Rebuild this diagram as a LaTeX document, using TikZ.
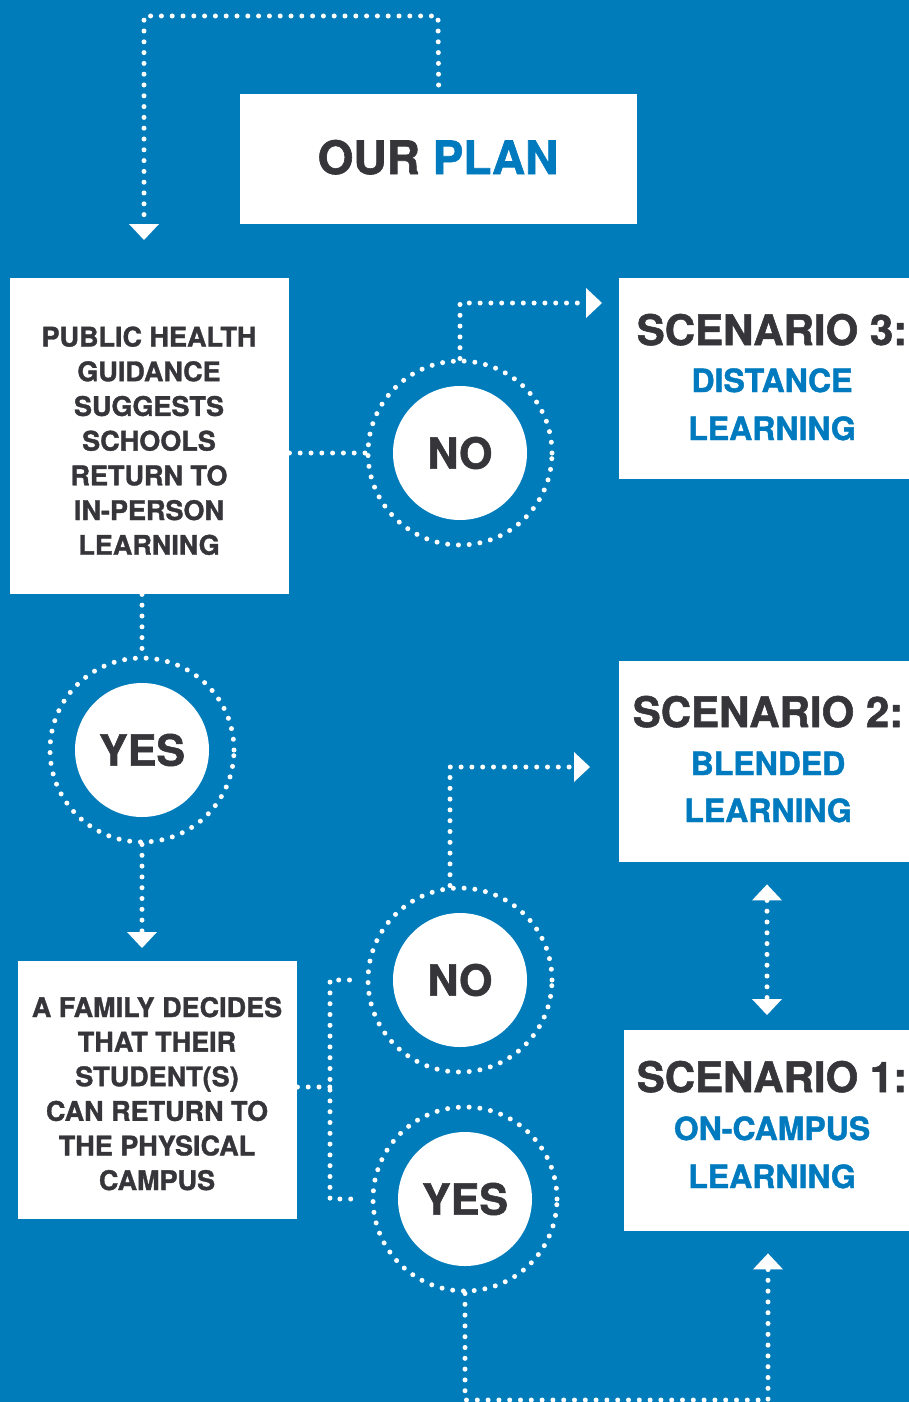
\documentclass[tikz,border=0pt]{standalone}
\usepackage{fontspec}
\setmainfont{TeX Gyre Heros}[BoldFeatures={FakeBold=1.3}]
\usetikzlibrary{arrows.meta}
\definecolor{bg}{RGB}{1,124,187}
\definecolor{dk}{RGB}{54,53,58}
\definecolor{bl}{RGB}{0,122,190}
\begin{document}
\begin{tikzpicture}[x=1pt,y=-1pt,
  dotline/.style={white,line width=5pt,line cap=round,dash pattern=on 0pt off 10.8pt},
  arrowhd/.style={-{Triangle[width=30pt,length=16pt,line width=0pt 0]}},
  darrow/.style={{Triangle[width=30pt,length=16pt,line width=0pt 0]}-{Triangle[width=30pt,length=16pt,line width=0pt 0]}},
  wbox/.style={fill=white,draw=none,inner sep=0pt,anchor=north west},
  ring/.style={circle,dotline,draw,minimum size=184pt,inner sep=0pt},
  disc/.style={circle,fill=white,minimum size=134pt,inner sep=0pt,text=dk,font=\fontsize{43}{43}\selectfont\bfseries},
  small/.style={anchor=base,text=dk,font=\fontsize{27}{27}\selectfont\bfseries},
  scen/.style={anchor=base,text=dk,font=\fontsize{42}{42}\selectfont\bfseries},
  sub/.style={anchor=base,text=bl,font=\fontsize{32}{32}\selectfont\bfseries},
]
\useasboundingbox (0,0) rectangle (909,1402);
\clip (0,0) rectangle (909,1402);
\fill[bg] (0,0) rectangle (909,1402);

% boxes
\node[wbox,minimum width=397pt,minimum height=130pt] (plan) at (240,94) {};
\node[wbox,minimum width=279pt,minimum height=316pt] (box1) at (10,278) {};
\node[wbox,minimum width=279pt,minimum height=258pt] (box2) at (18,961) {};
\node[wbox,minimum width=300pt,minimum height=201pt] (scen3) at (619,278) {};
\node[wbox,minimum width=300pt,minimum height=201pt] (scen2) at (619,661) {};
\node[wbox,minimum width=300pt,minimum height=201pt] (scen1) at (624,1030) {};

% texts
\node[anchor=base,font=\fontsize{46}{46}\selectfont\bfseries] (plantxt) at (438,174) {\textcolor{dk}{OUR} \textcolor{bl}{PLAN}};

\node[small] (q1) at (149,346.5) {PUBLIC HEALTH};
\node[small] (q2) at (149,381.2) {GUIDANCE};
\node[small] (q3) at (149,415.9) {SUGGESTS};
\node[small] (q4) at (149,450.6) {SCHOOLS};
\node[small] (q5) at (149,485.3) {RETURN TO};
\node[small] (q6) at (149,520.0) {IN-PERSON};
\node[small] (q7) at (149,554.7) {LEARNING};

\node[small] (f1) at (157,1017) {A FAMILY DECIDES};
\node[small] (f2) at (157,1051.6) {THAT THEIR};
\node[small] (f3) at (157,1086.2) {STUDENT(S)};
\node[small] (f4) at (157,1120.8) {CAN RETURN TO};
\node[small] (f5) at (157,1155.4) {THE PHYSICAL};
\node[small] (f6) at (157,1190) {CAMPUS};

\node[scen] (s3a) at (772,345) {SCENARIO 3:};
\node[sub] (s3b) at (772,392) {DISTANCE};
\node[sub] (s3c) at (772,440) {LEARNING};

\node[scen] (s2a) at (768,727) {SCENARIO 2:};
\node[sub] (s2b) at (768,775) {BLENDED};
\node[sub] (s2c) at (768,822) {LEARNING};

\node[scen] (s1a) at (772,1092) {SCENARIO 1:};
\node[sub] (s1b) at (772,1140) {ON-CAMPUS};
\node[sub] (s1c) at (772,1188) {LEARNING};

% circles
\node[ring] (no1r) at (460,453) {};
\node[disc] (no1) at (460,453) {NO};
\node[ring] (yes1r) at (142,750) {};
\node[disc] (yes1) at (142,750) {YES};
\node[ring] (no2r) at (460,980) {};
\node[disc] (no2) at (460,980) {NO};
\node[ring] (yes2r) at (465,1199) {};
\node[disc] (yes2) at (465,1199) {YES};

% coordinates
\coordinate (t1) at (438,16);
\coordinate (t2) at (144,16);
\coordinate (c3a) at (460,303);
\coordinate (c2a) at (450,767);
\coordinate (j) at (330,1087);
\coordinate (dx) at (767,0);
\coordinate (b1) at (465,1400);
\coordinate (b2) at (768,1400);

% connectors
\draw[dotline,arrowhd,shorten <=9pt,shorten >=38pt] (plan.north) -- (t1) -- (t2) -- (box1.north -| t2);
\draw[dotline] (box1.east |- no1r.west) -- (no1r.west);
\draw[dotline,arrowhd,shorten >=17pt] (no1r.north) -- (c3a) -- (scen3.west |- c3a);
\draw[dotline] (yes1r.north |- box1.south) -- (yes1r.north);
\draw[dotline,arrowhd,shorten >=13pt] (yes1r.south) -- (box2.north -| yes1r.south);
\draw[dotline] (box2.east |- j) -- (j);
\draw[dotline,shorten <=16pt,shorten >=16pt] (no2r.west) -| (j) |- (yes2r.west);
\draw[dotline,arrowhd,shorten >=29pt] ([xshift=-10pt]no2r.north) -- (c2a) -- (scen2.west |- c2a);
\draw[dotline,darrow,shorten <=22pt,shorten >=15pt] (scen2.south -| dx) -- (scen1.north -| dx);
\draw[dotline,arrowhd,shorten >=22pt] (yes2r.south) -- (b1) -- (b2) -- (scen1.south -| b2);
\end{tikzpicture}
\end{document}
